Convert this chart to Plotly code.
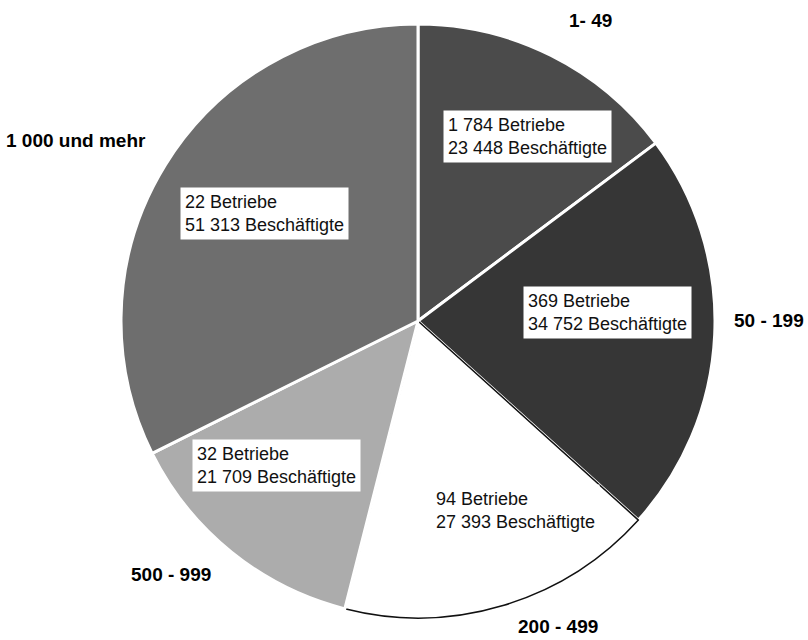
import plotly.graph_objects as go

# Data
classes = ["1- 49", "50 - 199", "200 - 499", "500 - 999", "1 000 und mehr"]
betriebe = ["1 784", "369", "94", "32", "22"]
beschaeftigte = [23448, 34752, 27393, 21709, 51313]
beschaeftigte_txt = ["23 448", "34 752", "27 393", "21 709", "51 313"]

colors = ["#4b4b4b", "#363636", "#ffffff", "#acacac", "#6e6e6e"]
line_colors = ["#ffffff", "#ffffff", "#111111", "#ffffff", "#ffffff"]
line_widths = [3, 3, 1.5, 3, 3]

W, H = 808, 640
cx, cy, r = 418, 321, 297  # pixel centre / radius of the pie domain

fig = go.Figure()
fig.add_trace(go.Pie(
    labels=classes,
    values=beschaeftigte,
    sort=False,
    direction="clockwise",
    rotation=0,
    textinfo="none",
    hoverinfo="label+value",
    marker=dict(colors=colors, line=dict(color=line_colors, width=line_widths)),
    domain=dict(x=[(cx - r) / W, (cx + r) / W],
                y=[(H - cy - r) / H, (H - cy + r) / H]),
    showlegend=False,
))

# label boxes: top-left pixel positions; outer labels: (x, y, xanchor, yanchor)
box_pos = [(443, 110), (523, 286), (431, 484), (192, 439), (180, 187)]
outer_pos = [(567, 20, "left", "middle"), (806, 320, "right", "middle"),
             (600, 639, "right", "bottom"), (129, 574, "left", "middle"),
             (4, 140, "left", "middle")]

ann = []
for i in range(len(classes)):
    bx, by = box_pos[i]
    ann.append(dict(
        x=bx / W, y=1 - by / H, xref="paper", yref="paper",
        text=f"{betriebe[i]} Betriebe<br>{beschaeftigte_txt[i]} Beschäftigte",
        showarrow=False, align="left", xanchor="left", yanchor="top",
        bgcolor="#ffffff", borderpad=4,
        font=dict(family="Liberation Sans, Arial, sans-serif", size=18, color="#111111"),
    ))
    ox, oy, xa, ya = outer_pos[i]
    ann.append(dict(
        x=ox / W, y=1 - oy / H, xref="paper", yref="paper",
        text=f"<b>{classes[i]}</b>",
        showarrow=False, xanchor=xa, yanchor=ya,
        font=dict(family="Liberation Sans, Arial, sans-serif", size=19, color="#000000"),
    ))

fig.update_layout(
    width=W, height=H,
    margin=dict(l=0, r=0, t=0, b=0),
    paper_bgcolor="#ffffff",
    plot_bgcolor="#ffffff",
    annotations=ann,
)

fig.write_html(
    "out.html",
    config={"displayModeBar": False},
    post_script="document.body.style.margin='0';document.body.style.overflow='hidden';",
)
